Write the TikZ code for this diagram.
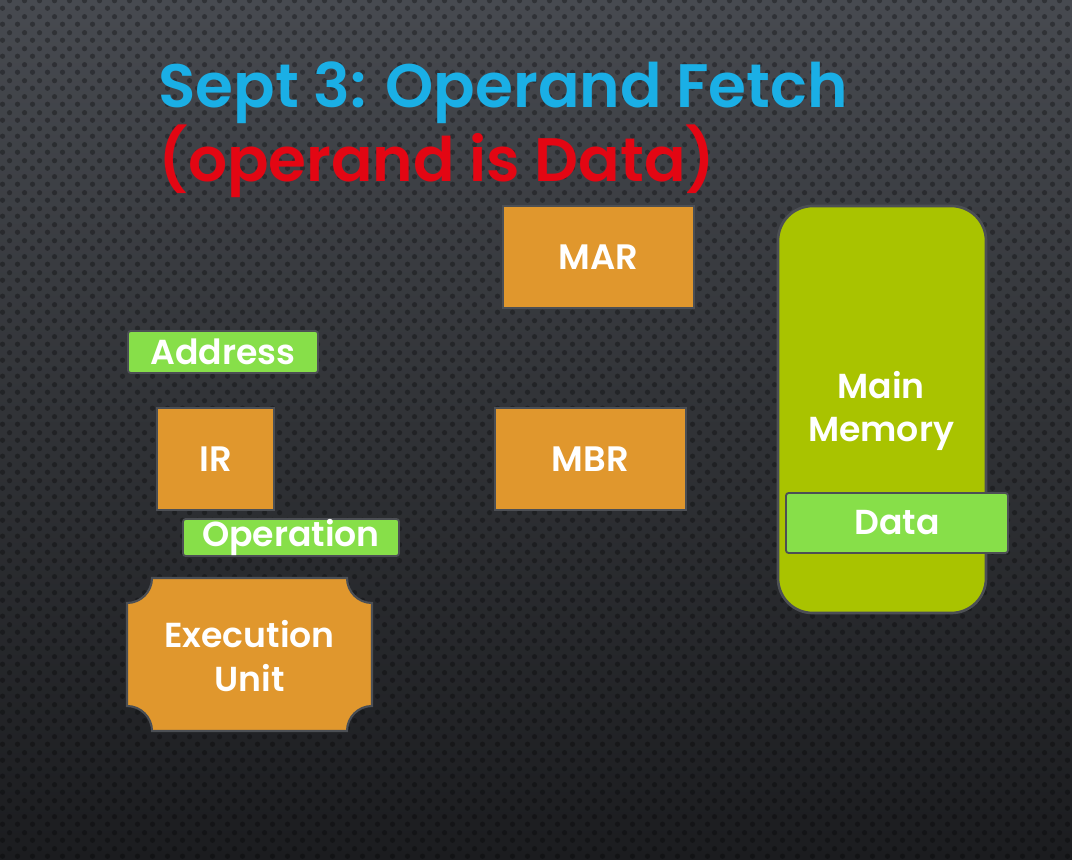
\documentclass[tikz,border=0pt]{standalone}
\usepackage{fontspec}
\setmainfont{Poppins}[BoldFont={Poppins SemiBold}]
\usetikzlibrary{patterns}
\definecolor{bgtop}{HTML}{474A50}
\definecolor{bgmid}{HTML}{303236}
\definecolor{bgbot}{HTML}{1B1C1F}
\definecolor{regorange}{HTML}{E0972D}
\definecolor{fieldgreen}{HTML}{87DF49}
\definecolor{memgreen}{HTML}{A9C300}
\definecolor{edgegray}{HTML}{4C4F54}
\definecolor{titleblue}{HTML}{1AAFE6}
\definecolor{titlered}{HTML}{E30613}
% perforated-metal dots for the backdrop, staggered rows
\pgfdeclarepatternformonly{bgdots}{\pgfpointorigin}{\pgfqpoint{11.25pt}{12pt}}{\pgfqpoint{11.25pt}{12pt}}{%
  \pgfpathcircle{\pgfqpoint{2.8pt}{3pt}}{2.1pt}%
  \pgfpathcircle{\pgfqpoint{8.43pt}{9pt}}{2.1pt}\pgfusepath{fill}}
\tikzset{
  reg/.style={draw=edgegray, line width=1.6pt, fill=regorange, text=white,
    font=\bfseries\fontsize{26.5}{32}\selectfont, inner sep=0pt, align=center},
  field/.style={draw=edgegray, line width=1.4pt, fill=fieldgreen, text=white,
    rounded corners=2pt, font=\bfseries\fontsize{26}{32}\selectfont, inner sep=0pt},
  memory/.style={draw=edgegray, line width=2pt, fill=memgreen, text=white,
    rounded corners=26pt, inner sep=0pt},
  plain/.style={text=white, font=\bfseries\fontsize{26}{32.5}\selectfont, align=center, inner sep=0pt},
  title/.style={font=\bfseries\fontsize{46}{56}\selectfont, inner sep=0pt, anchor=base west},
}
\begin{document}
\begin{tikzpicture}[x=0.75pt, y=-0.75pt]
  % backdrop
  \useasboundingbox (0,0) rectangle (1072,860);
  \shade[top color=bgtop, bottom color=bgbot, middle color=bgmid] (0,0) rectangle (1072,860);
  \fill[pattern=bgdots, pattern color=black, fill opacity=0.3] (0,0) rectangle (1072,860);

  % heading
  \node[title, text=titleblue] (head) at (158,107) {Sept 3: Operand Fetch};
  \node[title, text=titlered] (sub) at (158,181) {(operand is Data)};

  % registers
  \node[reg, minimum width=143.25pt, minimum height=76.5pt] (mar) at (598.5,257) {MAR};
  \node[reg, minimum width=143.25pt, minimum height=76.5pt] (mbr) at (590.5,459) {MBR};
  \node[reg, minimum width=87.75pt, minimum height=76.5pt] (ir) at (215.5,459) {IR};

  % instruction fields
  \node[field, minimum width=142.5pt, minimum height=31.5pt] (addr) at (223,352) {Address};
  \node[field, minimum width=162pt, minimum height=27.75pt] (op) at (291,537.5) {Operation};

  % main memory with its data word
  \node[memory, minimum width=156pt, minimum height=305.25pt] (mem) at (882,409.5) {};
  \node[plain] (memlabel) at (881,411) {Main\\Memory};
  \node[field, minimum width=166.5pt, minimum height=45pt] (data) at (897,523) {Data};

  % execution unit: plaque with concave corners
  \def\xa{127}\def\xb{372}\def\ya{578}\def\yb{731}\def\rc{25}
  \filldraw[draw=edgegray, line width=1.6pt, fill=regorange]
    (\xa+\rc,\ya) -- (\xb-\rc,\ya) arc[start angle=180, end angle=90, radius=\rc]
    -- (\xb,\yb-\rc) arc[start angle=270, end angle=180, radius=\rc]
    -- (\xa+\rc,\yb) arc[start angle=0, end angle=-90, radius=\rc]
    -- (\xa,\ya+\rc) arc[start angle=90, end angle=0, radius=\rc] -- cycle;
  \node[plain] (exec) at (249.5,656) {Execution\\Unit};
\end{tikzpicture}
\end{document}
